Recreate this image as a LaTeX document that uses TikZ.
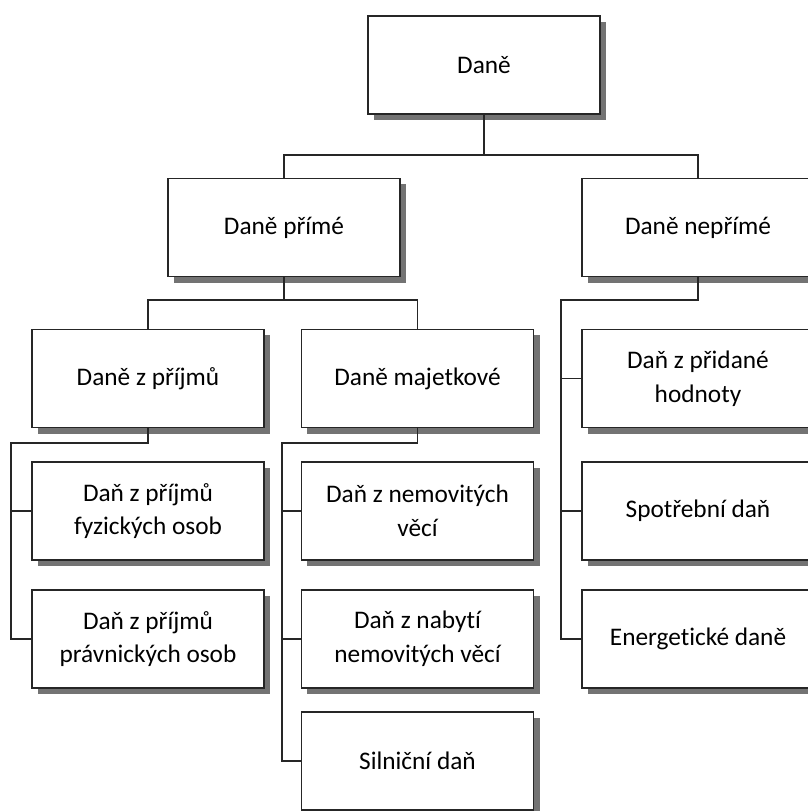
\documentclass[tikz,border=0pt]{standalone}
\usepackage{fontspec}
\setmainfont{Carlito}[Ligatures=NoCommon]
\usetikzlibrary{positioning,calc,shadows}

\begin{document}
\begin{tikzpicture}[
    x=0.025cm, y=-0.025cm,
    every node/.style={font=\fontsize{18}{24}\selectfont},
    box/.style={rectangle, draw=black!85, line width=1.2pt, fill=white,
        minimum width=5.8cm, minimum height=2.45cm, inner sep=2pt, align=center,
        drop shadow={shadow xshift=0.15cm, shadow yshift=-0.15cm, fill=black!55, opacity=1}},
    conn/.style={draw=black!85, line width=1.2pt}
]
\useasboundingbox (0,0) rectangle (808,811);
\clip (0,0) rectangle (808,811);

% ============ TOP LEVEL ============
\node[box] (dane) at (484,65) {Daně};

% ============ SECOND LEVEL ============
\node[box] (prime) at (284,227.5) {Daně přímé};
\node[box] (neprime) at (698,227.5) {Daně nepřímé};

% ============ DIRECT TAXES ============
\node[box] (prijmy) at (148,378.5) {Daně z příjmů};
\node[box] (majetek) at (417.5,378.5) {Daně majetkové};

\node[box] (fyzicke) at (148,511) {Daň z příjmů\\fyzických osob};
\node[box] (pravnicke) at (148,639) {Daň z příjmů\\právnických osob};

\node[box] (nemovite) at (417.5,511) {Daň z nemovitých\\věcí};
\node[box] (nabyti) at (417.5,639) {Daň z nabytí\\nemovitých věcí};
\node[box] (silnicni) at (417.5,761) {Silniční daň};

% ============ INDIRECT TAXES ============
\node[box] (dph) at (698,378.5) {Daň z přidané\\hodnoty};
\node[box] (spotreba) at (698,511) {Spotřební daň};
\node[box] (energie) at (698,639) {Energetické daně};

% Connectors
\coordinate (bar_top) at (484,155);
\coordinate (bar_prime) at (284,300);
\coordinate (spine_prijmy) at (11,443);
\coordinate (spine_majetek) at (282,443);
\coordinate (spine_neprime) at (561,300);

\draw[conn] (dane.south) -- (bar_top);
\draw[conn] (prime.north) |- (bar_top) -| (neprime.north);

\draw[conn] (prime.south) -- (bar_prime);
\draw[conn] (prijmy.north) |- (bar_prime) -| (majetek.north);

\draw[conn] (prijmy.south) |- (spine_prijmy) |- (pravnicke.west);
\draw[conn] (spine_prijmy |- fyzicke.west) -- (fyzicke.west);

\draw[conn] (majetek.south) |- (spine_majetek) |- (silnicni.west);
\draw[conn] (spine_majetek |- nemovite.west) -- (nemovite.west);
\draw[conn] (spine_majetek |- nabyti.west) -- (nabyti.west);

\draw[conn] (neprime.south) |- (spine_neprime) |- (energie.west);
\draw[conn] (spine_neprime |- dph.west) -- (dph.west);
\draw[conn] (spine_neprime |- spotreba.west) -- (spotreba.west);

\end{tikzpicture}
\end{document}
